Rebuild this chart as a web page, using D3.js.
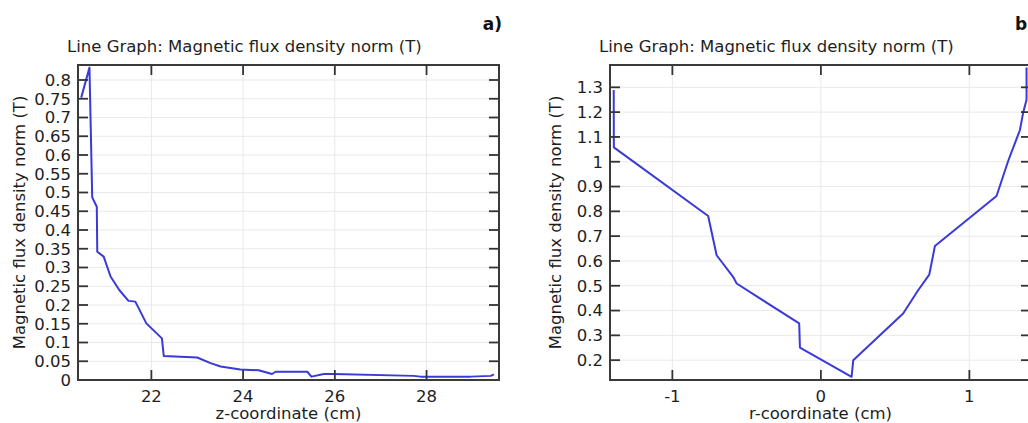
<!DOCTYPE html>
<html>
<head>
<meta charset="utf-8">
<script src="https://cdn.jsdelivr.net/npm/d3@7"></script>
<style>
  body { margin: 0; background: #fff; }
  svg { display: block; font-family: "DejaVu Sans", sans-serif; }
</style>
</head>
<body>
<svg id="fig" width="1028" height="423"></svg>
<script>
// panel a: B along z
const zA = [20.47, 20.65, 20.71, 20.81, 20.82, 20.96, 21.11, 21.3, 21.50, 21.65, 21.89, 22.23, 22.27,
  23.0, 23.29, 23.51, 23.94, 24.34, 24.63, 24.71, 25.40, 25.49, 25.76, 25.98, 27.72, 27.87, 28.96, 29.40, 29.47];
const bA = [0.753, 0.833, 0.487, 0.462, 0.342, 0.329, 0.276, 0.24, 0.211, 0.209, 0.151, 0.111, 0.064,
  0.060, 0.045, 0.036, 0.028, 0.026, 0.016, 0.022, 0.022, 0.009, 0.016, 0.016, 0.011, 0.009, 0.009, 0.011, 0.015];
const xTicksA = [22, 24, 26, 28];
const yTicksA = d3.range(0, 17).map(i => i * 0.05);

// panel b: B along r
const rB = [-1.395, -1.394, -0.759, -0.702, -0.591, -0.567, -0.146, -0.141, 0.207, 0.218,
  0.554, 0.655, 0.73, 0.768, 1.183, 1.263, 1.34, 1.363, 1.385, 1.385];
const bB = [1.289, 1.058, 0.781, 0.623, 0.536, 0.509, 0.348, 0.251, 0.133, 0.2,
  0.388, 0.482, 0.545, 0.66, 0.862, 1.006, 1.127, 1.2, 1.25, 1.38];
const xTicksB = [-1, 0, 1];
const yTicksB = d3.range(2, 14).map(i => i / 10);

const title = "Line Graph: Magnetic flux density norm (T)";
const yTitle = "Magnetic flux density norm (T)";

const svg = d3.select("#fig");
const fmt = v => String(+v.toFixed(2));

function drawPanel(p) {
  const x = d3.scaleLinear().domain(p.xDomain).range([p.left, p.right]);
  const y = d3.scaleLinear().domain(p.yDomain).range([p.bottom, p.top]);
  const g = svg.append("g");
  const tick = 10;

  // grid
  g.selectAll(".gx").data(p.xTicks).join("line")
    .attr("x1", d => x(d)).attr("x2", d => x(d))
    .attr("y1", p.top).attr("y2", p.bottom)
    .attr("stroke", "#e9e9e9").attr("stroke-width", 1);
  g.selectAll(".gy").data(p.yTicks).join("line")
    .attr("x1", p.left).attr("x2", p.right)
    .attr("y1", d => y(d)).attr("y2", d => y(d))
    .attr("stroke", "#e9e9e9").attr("stroke-width", 1);

  // data line
  const pts = p.xs.map((v, i) => [v, p.ys[i]]);
  g.append("path")
    .datum(pts)
    .attr("d", d3.line().x(d => x(d[0])).y(d => y(d[1])))
    .attr("fill", "none")
    .attr("stroke", "#3a3ad8")
    .attr("stroke-width", 2)
    .attr("stroke-linejoin", "round");

  // inward ticks on all four sides
  const tk = g.append("g").attr("stroke", "#333").attr("stroke-width", 1.8);
  p.xTicks.forEach(d => {
    tk.append("line").attr("x1", x(d)).attr("x2", x(d)).attr("y1", p.bottom).attr("y2", p.bottom - tick);
    tk.append("line").attr("x1", x(d)).attr("x2", x(d)).attr("y1", p.top).attr("y2", p.top + tick);
  });
  p.yTicks.forEach(d => {
    tk.append("line").attr("x1", p.left).attr("x2", p.left + tick).attr("y1", y(d)).attr("y2", y(d));
    tk.append("line").attr("x1", p.right).attr("x2", p.right - tick).attr("y1", y(d)).attr("y2", y(d));
  });

  // frame
  g.append("rect")
    .attr("x", p.left).attr("y", p.top)
    .attr("width", p.right - p.left).attr("height", p.bottom - p.top)
    .attr("fill", "none").attr("stroke", "#3a3a3a").attr("stroke-width", 2);

  // tick labels
  g.selectAll(".xl").data(p.xTicks).join("text")
    .attr("x", d => x(d)).attr("y", p.bottom + 21.5)
    .attr("text-anchor", "middle").attr("font-size", 16.5).attr("fill", "#1e1e1e")
    .text(d => fmt(d));
  g.selectAll(".yl").data(p.yTicks).join("text")
    .attr("x", p.left - 7).attr("y", d => y(d)).attr("dy", "0.36em")
    .attr("text-anchor", "end").attr("font-size", 16.5).attr("fill", "#1e1e1e")
    .text(d => fmt(d));

  // titles
  g.append("text")
    .attr("x", p.left - 11).attr("y", 51.5)
    .attr("font-size", 16.5).attr("fill", "#1e1e1e")
    .text(title);
  g.append("text")
    .attr("x", (p.left + p.right) / 2).attr("y", 418.5)
    .attr("text-anchor", "middle").attr("font-size", 16.5).attr("fill", "#1e1e1e")
    .text(p.xLabel);
  g.append("text")
    .attr("transform", `translate(${p.yLabelX},${(p.top + p.bottom) / 2}) rotate(-90)`)
    .attr("text-anchor", "middle").attr("font-size", 16.5).attr("fill", "#1e1e1e")
    .text(yTitle);

  // panel letter
  g.append("text")
    .attr("x", p.tagX).attr("y", 30)
    .attr("text-anchor", p.tagAnchor)
    .attr("font-size", 17).attr("font-weight", "bold").attr("fill", "#111")
    .text(p.tag);
}

drawPanel({
  left: 78, right: 499, top: 65, bottom: 380,
  xDomain: [20.4, 29.58], yDomain: [0, 0.84],
  xs: zA, ys: bA, xTicks: xTicksA, yTicks: yTicksA,
  xLabel: "z-coordinate (cm)", yLabelX: 25,
  tag: "a)", tagX: 502, tagAnchor: "end"
});

drawPanel({
  left: 610, right: 1031, top: 65, bottom: 380,
  xDomain: [-1.42, 1.415], yDomain: [0.12, 1.39],
  xs: rB, ys: bB, xTicks: xTicksB, yTicks: yTicksB,
  xLabel: "r-coordinate (cm)", yLabelX: 561,
  tag: "b)", tagX: 1015, tagAnchor: "start"
});
</script>
</body>
</html>
